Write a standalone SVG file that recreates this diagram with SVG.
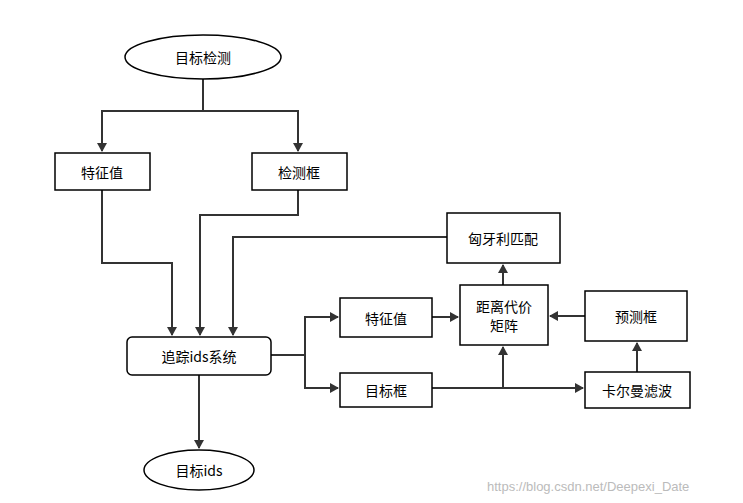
<svg xmlns="http://www.w3.org/2000/svg" width="743" height="503" viewBox="0 0 743 503">
<style>
.n{fill:#fff;stroke:#000;stroke-width:1.5}
.t{font-family:"Microsoft YaHei","Noto Sans CJK SC",sans-serif;font-size:14px;text-anchor:middle;dominant-baseline:central;fill:#000}
.c{fill:none;stroke:#333;stroke-width:2}
</style>
<defs><marker id="a" markerWidth="10" markerHeight="10" refX="8" refY="5" orient="auto" markerUnits="userSpaceOnUse"><path d="M0,0L9,5L0,10Z" fill="#333"/></marker></defs>
<rect width="743" height="503" fill="#fff"/>
<g id="connectors">
<path class="c" d="M203,79V111H102V151" marker-end="url(#a)"/>
<path class="c" d="M203,111H298V151" marker-end="url(#a)"/>
<path class="c" d="M102,190V263H172V335" marker-end="url(#a)"/>
<path class="c" d="M298,190V215H200V335" marker-end="url(#a)"/>
<path class="c" d="M447,237H233V335" marker-end="url(#a)"/>
<path class="c" d="M271,355H305V317H338" marker-end="url(#a)"/>
<path class="c" d="M305,355V388H338" marker-end="url(#a)"/>
<path class="c" d="M432,317H458" marker-end="url(#a)"/>
<path class="c" d="M432,388H583" marker-end="url(#a)"/>
<path class="c" d="M503,388V347" marker-end="url(#a)"/>
<path class="c" d="M637,372V343" marker-end="url(#a)"/>
<path class="c" d="M585,316H550" marker-end="url(#a)"/>
<path class="c" d="M503,285V265" marker-end="url(#a)"/>
<path class="c" d="M199,375V448" marker-end="url(#a)"/>
</g>
<g id="n1"><ellipse class="n" cx="203" cy="57" rx="78" ry="22"/><text class="t" x="203" y="57">目标检测</text></g>
<g id="n2"><rect class="n" x="55" y="153" width="95" height="37"/><text class="t" x="102" y="172">特征值</text></g>
<g id="n3"><rect class="n" x="252" y="153" width="95" height="37"/><text class="t" x="299" y="172">检测框</text></g>
<g id="n4"><rect class="n" x="447" y="213" width="113" height="50"/><text class="t" x="503" y="238">匈牙利匹配</text></g>
<g id="n5"><rect class="n" x="460" y="285" width="88" height="60"/><text class="t" x="504" y="306">距离代价</text><text class="t" x="504" y="325">矩阵</text></g>
<g id="n6"><rect class="n" x="340" y="298" width="92" height="39"/><text class="t" x="386" y="318">特征值</text></g>
<g id="n7"><rect class="n" x="585" y="291" width="102" height="50"/><text class="t" x="636" y="316">预测框</text></g>
<g id="n8"><rect class="n" x="127" y="337" width="144" height="38" rx="5"/><text class="t" x="199" y="356">追踪ids系统</text></g>
<g id="n9"><rect class="n" x="340" y="373" width="92" height="34"/><text class="t" x="386" y="390">目标框</text></g>
<g id="n10"><rect class="n" x="585" y="372" width="105" height="36"/><text class="t" x="637" y="390">卡尔曼滤波</text></g>
<g id="n11"><ellipse class="n" cx="199" cy="470" rx="55" ry="20"/><text class="t" x="199" y="470">目标ids</text></g>
<text x="487" y="491" style="font-family:'Liberation Sans',sans-serif;font-size:13px;fill:#bbb">https://blog.csdn.net/Deepexi_Date</text>
</svg>
